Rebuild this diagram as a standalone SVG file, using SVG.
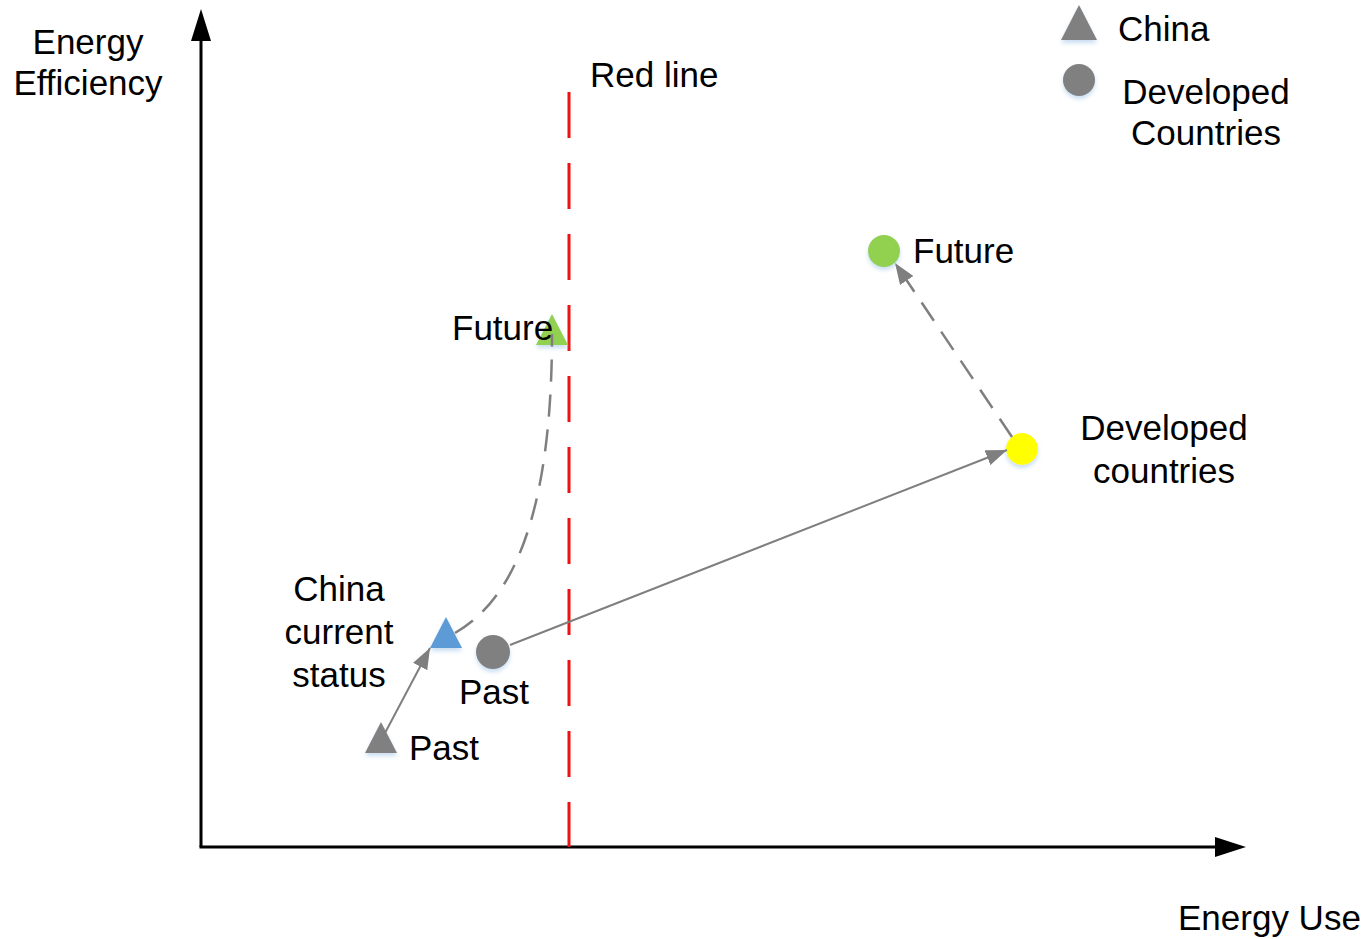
<svg xmlns="http://www.w3.org/2000/svg" width="1367" height="939" viewBox="0 0 1367 939">
  <style>
    text { font-family: "Liberation Sans", Arial, sans-serif; font-size: 35px; fill: #000; }
    .mid { text-anchor: middle; }
    .axis { stroke: #000; stroke-width: 3; fill: none; }
    .conn { stroke: #7f7f7f; stroke-width: 2; fill: none; }
    .dash { stroke-width: 2.5; stroke-dasharray: 22 13; }
    .grey { fill: #808080; }
  </style>
  <defs>
    <filter id="glow" x="-50%" y="-50%" width="200%" height="200%">
      <feDropShadow dx="0" dy="3" stdDeviation="2" flood-color="#9dc3e6" flood-opacity="0.55"/>
    </filter>
    <marker id="arrG" viewBox="0 0 21 16" refX="21" refY="8" markerWidth="21" markerHeight="16" markerUnits="userSpaceOnUse" orient="auto">
      <path d="M0,0 L21,8 L0,16 z" fill="#7f7f7f"/>
    </marker>
  </defs>

  <!-- axes -->
  <g id="axes">
    <line class="axis" x1="201" y1="847" x2="201" y2="38"/>
    <polygon points="201,9 211,41 191,41" fill="#000"/>
    <line class="axis" x1="199.5" y1="847" x2="1217" y2="847"/>
    <polygon points="1246,847 1215,837 1215,857" fill="#000"/>
    <text class="mid" x="88" y="54">Energy</text>
    <text class="mid" x="88" y="95">Efficiency</text>
    <text x="1178" y="930">Energy Use</text>
  </g>

  <!-- red threshold line -->
  <g id="red-line">
    <line x1="569" y1="92" x2="569" y2="847" stroke="#ee1111" stroke-width="3" stroke-dasharray="46 25"/>
    <text x="590" y="87">Red line</text>
  </g>

  <!-- legend -->
  <g id="legend">
    <polygon class="grey" points="1079,5 1097,40 1061,40" filter="url(#glow)"/>
    <text x="1118" y="41">China</text>
    <circle class="grey" cx="1079" cy="80" r="16" filter="url(#glow)"/>
    <text class="mid" x="1206" y="104">Developed</text>
    <text class="mid" x="1206" y="145">Countries</text>
  </g>

  <!-- China points -->
  <g id="china-past">
    <polygon class="grey" points="381,722 397,753 365,753" filter="url(#glow)"/>
    <text x="409" y="760">Past</text>
  </g>
  <g id="china-current">
    <polygon points="446,617 462,648 430,648" fill="#5b9bd5" filter="url(#glow)"/>
    <text class="mid" x="339" y="601">China</text>
    <text class="mid" x="339" y="644">current</text>
    <text class="mid" x="339" y="687">status</text>
  </g>
  <g id="china-future">
    <polygon points="552,314 568,345 536,345" fill="#92d050" filter="url(#glow)"/>
    <text x="452" y="340">Future</text>
  </g>

  <!-- developed countries points -->
  <g id="dev-past">
    <circle class="grey" cx="493" cy="652" r="17" filter="url(#glow)"/>
    <text class="mid" x="494" y="704">Past</text>
  </g>
  <g id="dev-current">
    <circle cx="1022" cy="449" r="16" fill="#ffff00" filter="url(#glow)"/>
    <text class="mid" x="1164" y="440">Developed</text>
    <text class="mid" x="1164" y="483">countries</text>
  </g>
  <g id="dev-future">
    <circle cx="884" cy="251" r="16" fill="#92d050" filter="url(#glow)"/>
    <text x="913" y="263">Future</text>
  </g>

  <!-- connectors -->
  <g id="connectors">
    <line class="conn" x1="385" y1="733" x2="430" y2="648" marker-end="url(#arrG)"/>
    <line class="conn" x1="510" y1="645" x2="1007" y2="450" marker-end="url(#arrG)"/>
    <line class="conn dash" x1="1012" y1="437" x2="895" y2="263" marker-end="url(#arrG)"/>
    <path class="conn dash" d="M455,633 C490,612 552,560 552,334"/>
  </g>
</svg>
